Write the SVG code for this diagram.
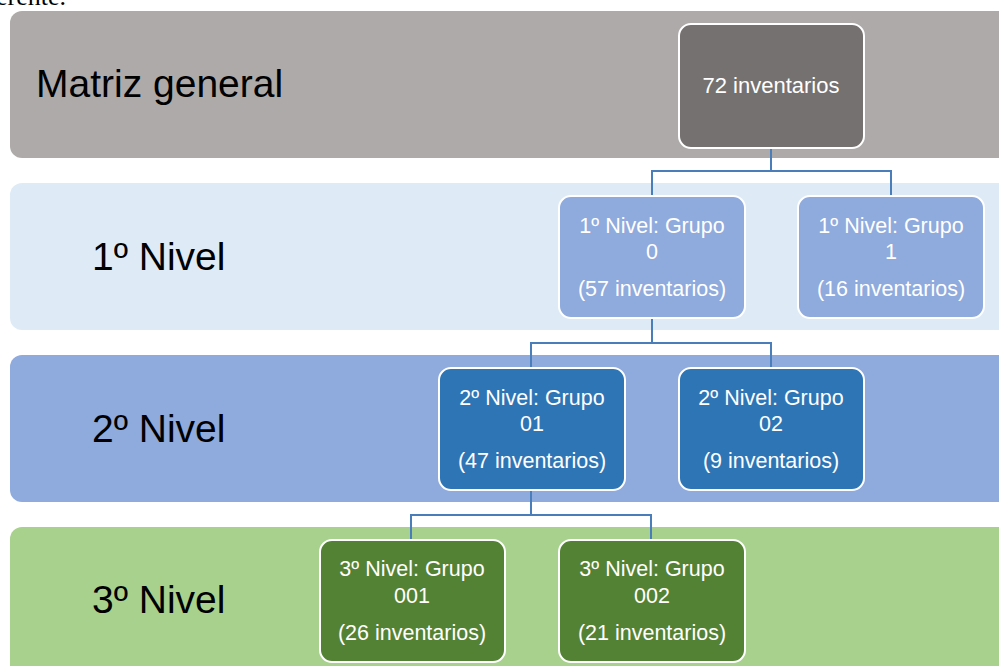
<svg xmlns="http://www.w3.org/2000/svg" width="999" height="666" viewBox="0 0 999 666">
<style>
.band{stroke:none}
.node rect{stroke:#ffffff;stroke-width:2}
.big{font-family:"Liberation Sans",Arial,sans-serif;font-size:39px;fill:#000}
.nt{font-family:"Liberation Sans",Arial,sans-serif;font-size:21.5px;fill:#ffffff;text-anchor:middle}
.conn{fill:none;stroke:#4a7ebb;stroke-width:2}
</style>
<rect width="999" height="666" fill="#ffffff"/>
<text x="-4" y="5" font-family="Liberation Serif,serif" font-size="26" fill="#000">erente.</text>
<g id="bands">
<rect class="band" x="10" y="11" width="1010" height="147" rx="12" fill="#aeaaaa"/>
<rect class="band" x="10" y="183" width="1010" height="147" rx="12" fill="#deebf7"/>
<rect class="band" x="10" y="355" width="1010" height="147" rx="12" fill="#8faadc"/>
<rect class="band" x="10" y="527" width="1010" height="160" rx="12" fill="#a9d18e"/>
<text class="big" x="36" y="97">Matriz general</text>
<text class="big" x="92" y="270">1º Nivel</text>
<text class="big" x="92" y="442">2º Nivel</text>
<text class="big" x="92" y="613">3º Nivel</text>
</g>
<g id="connectors">
<polyline class="conn" points="771,148 771,171 652,171 652,196"/>
<polyline class="conn" points="771,171 891,171 891,196"/>
<polyline class="conn" points="652,318 652,343 531,343 531,368"/>
<polyline class="conn" points="652,343 771,343 771,368"/>
<polyline class="conn" points="531,490 531,515 411,515 411,540"/>
<polyline class="conn" points="531,515 651,515 651,540"/>
</g>
<g id="n72" class="node">
<rect x="679" y="24" width="185" height="124" rx="12" fill="#767171"/>
<text class="nt" x="771" y="93" style="font-size:22px">72 inventarios</text>
</g>
<g id="n0" class="node">
<rect x="559" y="196" width="186" height="122" rx="12" fill="#8faadc"/>
<text class="nt" x="652" y="233">1º Nivel: Grupo</text>
<text class="nt" x="652" y="259">0</text>
<text class="nt" x="652" y="296">(57 inventarios)</text>
</g>
<g id="n1" class="node">
<rect x="798" y="196" width="186" height="122" rx="12" fill="#8faadc"/>
<text class="nt" x="891" y="233">1º Nivel: Grupo</text>
<text class="nt" x="891" y="259">1</text>
<text class="nt" x="891" y="296">(16 inventarios)</text>
</g>
<g id="n01" class="node">
<rect x="439" y="368" width="186" height="122" rx="12" fill="#2e75b6"/>
<text class="nt" x="532" y="405">2º Nivel: Grupo</text>
<text class="nt" x="532" y="431">01</text>
<text class="nt" x="532" y="468">(47 inventarios)</text>
</g>
<g id="n02" class="node">
<rect x="679" y="368" width="185" height="122" rx="12" fill="#2e75b6"/>
<text class="nt" x="771" y="405">2º Nivel: Grupo</text>
<text class="nt" x="771" y="431">02</text>
<text class="nt" x="771" y="468">(9 inventarios)</text>
</g>
<g id="n001" class="node">
<rect x="320" y="540" width="185" height="122" rx="12" fill="#548235"/>
<text class="nt" x="412" y="576">3º Nivel: Grupo</text>
<text class="nt" x="412" y="603">001</text>
<text class="nt" x="412" y="640">(26 inventarios)</text>
</g>
<g id="n002" class="node">
<rect x="559" y="540" width="186" height="122" rx="12" fill="#548235"/>
<text class="nt" x="652" y="576">3º Nivel: Grupo</text>
<text class="nt" x="652" y="603">002</text>
<text class="nt" x="652" y="640">(21 inventarios)</text>
</g>
</svg>
